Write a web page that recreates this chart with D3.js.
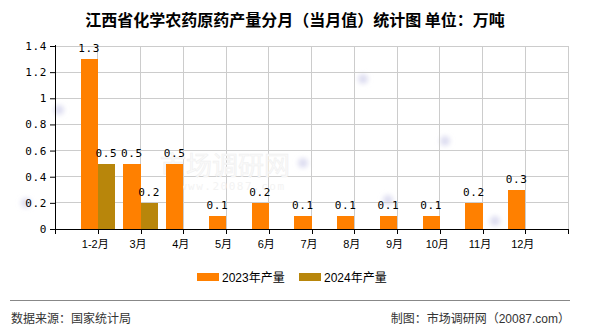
<!DOCTYPE html>
<html>
<head>
<meta charset="utf-8">
<script src="https://cdn.jsdelivr.net/npm/d3@7/dist/d3.min.js"></script>
<style>
  html, body { margin: 0; padding: 0; background: #fff; }
  svg { display: block; }
</style>
</head>
<body>
<svg id="chart" width="590" height="330"></svg>
<script>
// Monthly output of chemical pesticide technical in Jiangxi (10k tonnes)
const months = ["1-2月", "3月", "4月", "5月", "6月", "7月", "8月", "9月", "10月", "11月", "12月"];
const output2023 = [1.3, 0.5, 0.5, 0.1, 0.2, 0.1, 0.1, 0.1, 0.1, 0.2, 0.3];
const output2024 = [0.5, 0.2, null, null, null, null, null, null, null, null, null];
const yTicks = [0, 0.2, 0.4, 0.6, 0.8, 1, 1.2, 1.4];
const seriesNames = ["2023年产量", "2024年产量"];
const seriesColors = ["#ff8000", "#b8860b"];

const svg = d3.select("#chart");
const cjk = "'Liberation Sans', 'Noto Sans CJK SC', sans-serif";
const mono = "'DejaVu Sans Mono', 'Noto Sans CJK SC', monospace";

const plotLeft = 55, plotRight = 568, plotTop = 46, plotBottom = 229;

const x = d3.scalePoint().domain(months).range([plotLeft, plotRight]).padding(1);
const y = d3.scaleLinear().domain([0, 1.4]).range([plotBottom, plotTop]);
const step = x.step();
const barW = step * 0.4;

// soft decorative specks in the background
const specks = [[59, 110], [26, 203], [363, 79], [445, 141], [495, 221], [303, 163], [388, 200]];
const defs = svg.append("defs");
defs.append("filter").attr("id", "soft").attr("x", "-2").attr("y", "-2").attr("width", "5").attr("height", "5")
  .append("feGaussianBlur").attr("stdDeviation", 2.5);
svg.append("g").selectAll("circle").data(specks).join("circle")
  .attr("cx", d => d[0]).attr("cy", d => d[1]).attr("r", 5)
  .attr("fill", "#dcdcf0").attr("filter", "url(#soft)");

// grid
const grid = svg.append("g").attr("stroke", "#cccccc").attr("stroke-width", 1).attr("shape-rendering", "crispEdges");
grid.selectAll("line.h").data(yTicks.slice(1)).join("line")
  .attr("x1", plotLeft).attr("x2", plotRight)
  .attr("y1", d => y(d)).attr("y2", d => y(d));
const vTicks = d3.range(0, months.length + 2).map(i => plotLeft + i * step);
grid.selectAll("line.v").data(vTicks.slice(1)).join("line")
  .attr("x1", d => d).attr("x2", d => d)
  .attr("y1", plotTop).attr("y2", plotBottom);

// watermark
svg.append("text").attr("x", 160).attr("y", 175)
  .attr("font-family", cjk).attr("font-size", 26)
  .attr("fill", "#fafafa").attr("stroke", "#f0f0f0").attr("stroke-width", 0.6)
  .text("市场调研网");
svg.append("text").attr("x", 180).attr("y", 190)
  .attr("font-family", mono).attr("font-size", 11).attr("letter-spacing", 1.5)
  .attr("fill", "#f3f3f3")
  .text("www.20087.com");

// bars
const series = [output2023, output2024];
series.forEach((vals, si) => {
  const g = svg.append("g");
  const data = months.map((m, i) => ({ m, v: vals[i] })).filter(d => d.v != null);
  g.selectAll("rect").data(data).join("rect")
    .attr("x", d => x(d.m) + (si === 0 ? -barW : 0))
    .attr("width", barW)
    .attr("y", d => y(d.v))
    .attr("height", d => y(0) - y(d.v))
    .attr("fill", seriesColors[si])
    .attr("shape-rendering", "crispEdges");
  g.selectAll("text").data(data).join("text")
    .attr("x", d => x(d.m) + (si === 0 ? -barW / 2 : barW / 2))
    .attr("y", d => y(d.v) - 7)
    .attr("text-anchor", "middle")
    .attr("font-family", mono).attr("font-size", 11).attr("letter-spacing", 0.6)
    .attr("fill", "#000")
    .text(d => d3.format(".1f")(d.v));
});

// axes
const yAxis = d3.axisLeft(y).tickValues(yTicks).tickSize(5).tickPadding(3)
  .tickFormat(d => d === 0 ? "0" : d3.format("~g")(d));
const gy = svg.append("g").attr("transform", `translate(${plotLeft},0)`).call(yAxis);
gy.select(".domain").attr("stroke", "#000").attr("d", `M0.5,${plotTop - 1}V${plotBottom}`);
gy.selectAll(".tick line").attr("stroke", "#000");
gy.selectAll("text").attr("font-family", mono).attr("font-size", 11)
  .attr("letter-spacing", 0.6).attr("fill", "#000");

const xAxisG = svg.append("g").attr("transform", `translate(0,${plotBottom})`);
xAxisG.append("line").attr("x1", plotLeft).attr("x2", plotRight + 1).attr("y1", 0.5).attr("y2", 0.5)
  .attr("stroke", "#000");
xAxisG.selectAll("line.tk").data(vTicks).join("line")
  .attr("x1", d => Math.round(d) + 0.5).attr("x2", d => Math.round(d) + 0.5)
  .attr("y1", 0).attr("y2", 5).attr("stroke", "#000");
xAxisG.selectAll("text").data(months).join("text")
  .attr("x", d => x(d) - 2.5).attr("y", 19)
  .attr("text-anchor", "middle")
  .attr("font-family", cjk).attr("font-size", 11).attr("fill", "#000")
  .text(d => d);

// title
svg.append("text").attr("x", 295).attr("y", 26).attr("text-anchor", "middle")
  .attr("font-family", "'Noto Sans CJK SC', sans-serif").attr("font-size", 16)
  .attr("font-weight", "bold").attr("fill", "#000")
  .text("江西省化学农药原药产量分月（当月值）统计图 单位：万吨");

// legend
const legendX = [197, 299];
seriesNames.forEach((name, i) => {
  svg.append("rect").attr("x", legendX[i]).attr("y", 273).attr("width", 22).attr("height", 8)
    .attr("fill", seriesColors[i]);
  svg.append("text").attr("x", legendX[i] + 25).attr("y", 282)
    .attr("font-family", cjk).attr("font-size", 12).attr("fill", "#000")
    .text(name);
});

// footer
svg.append("line").attr("x1", 10).attr("x2", 570).attr("y1", 300.5).attr("y2", 300.5)
  .attr("stroke", "#888").attr("stroke-width", 1);
svg.append("text").attr("x", 11).attr("y", 323)
  .attr("font-family", cjk).attr("font-size", 12).attr("fill", "#333")
  .text("数据来源：国家统计局");
svg.append("text").attr("x", 570).attr("y", 323).attr("text-anchor", "end")
  .attr("font-family", cjk).attr("font-size", 12).attr("fill", "#333")
  .text("制图：市场调研网（20087.com）");
</script>
</body>
</html>
